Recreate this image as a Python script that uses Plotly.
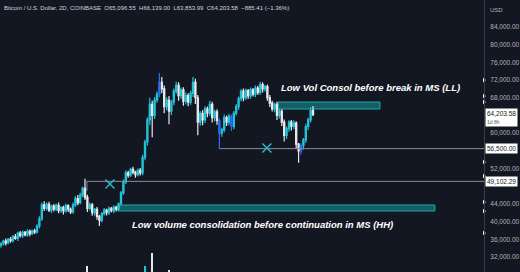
import plotly.graph_objects as go

# ---------------- data (prices in thousands USD, 2D candles) ----------------
first_open = 34.6
close = [35.0, 35.6, 35.2, 36.0, 35.7, 36.6, 36.2, 37.4, 36.8, 37.6, 37.0, 37.8, 37.3, 37.9, 37.6,
         39.0, 40.6, 43.8, 43.0, 43.9, 42.6, 43.5, 42.8, 43.7, 42.5, 43.2, 42.4, 43.6, 42.8, 42.2,
         43.8, 45.2, 44.3, 46.0, 47.5, 45.5, 43.0, 43.8, 42.0, 42.8, 41.2, 40.3, 41.8, 42.6, 42.0,
         43.0, 42.5, 43.2, 42.8, 44.0, 46.5, 49.0, 51.0, 50.5, 51.8, 51.2, 50.6, 51.6, 51.0, 54.5,
         58.0, 63.0, 66.5, 64.0, 67.5, 68.8, 71.5, 70.0, 66.0, 67.5, 65.0, 67.0, 69.5, 70.8, 68.5,
         69.8, 67.2, 68.5, 67.0, 69.0, 71.5, 68.0, 62.5, 64.5, 63.0, 65.5, 64.5, 66.5, 63.5, 64.8,
         62.8, 60.0, 60.8, 63.5, 62.5, 63.8, 61.5, 64.5, 66.0, 67.8, 69.5, 68.0, 69.6, 68.4, 69.8,
         68.8, 70.2, 69.2, 71.0, 70.0, 70.5, 68.0, 66.8, 65.5, 66.5, 64.0, 65.0, 62.5, 59.5, 61.0,
         62.5, 61.5, 62.3, 57.5, 56.0, 57.2, 58.5, 61.5, 63.0, 65.09655, 64.20358]
upper_wick = [0.4, 0.3, 0.6, 0.3, 0.5, 0.4, 0.6, 0.3, 0.5, 0.4, 0.3, 0.5, 0.4, 0.3, 0.5,
              0.4, 0.6, 0.5, 0.8, 0.4, 0.6, 0.3, 0.5, 0.4, 0.6, 0.3, 0.4, 0.5, 0.3, 0.4,
              0.5, 0.6, 0.8, 0.5, 0.4, 2.2, 0.6, 0.5, 0.4, 0.3, 0.5, 0.3, 0.4, 0.5, 0.3,
              0.4, 0.3, 0.5, 0.4, 0.3, 0.4, 0.5, 0.6, 0.5, 0.4, 0.6, 0.3, 0.4, 0.5, 0.6,
              0.5, 0.6, 1.5, 0.8, 0.7, 0.6, 2.1, 1.2, 0.8, 0.6, 0.9, 0.5, 0.6, 0.8, 0.7,
              0.5, 0.6, 0.7, 0.5, 0.6, 1.2, 0.8, 0.6, 0.5, 0.7, 0.6, 0.5, 0.8, 0.6, 0.5,
              0.6, 0.5, 0.4, 0.7, 0.5, 0.6, 0.4, 0.5, 0.6, 0.5, 0.4, 0.6, 0.5, 0.4, 0.5,
              0.4, 0.6, 0.5, 0.6, 0.5, 0.4, 0.5, 0.6, 0.5, 0.4, 0.6, 0.5, 0.4, 0.6, 0.5,
              0.4, 0.5, 0.6, 0.4, 0.3, 0.5, 0.4, 0.6, 0.5, 0.8, 1.04]
lower_wick = [0.5, 0.4, 0.6, 0.3, 0.5, 0.4, 0.3, 0.6, 0.4, 0.5, 0.3, 0.4, 0.6, 0.3, 0.4,
              0.3, 0.5, 0.4, 0.6, 0.5, 0.4, 0.7, 0.5, 0.4, 0.6, 0.5, 0.8, 0.4, 0.6, 0.5,
              0.4, 0.5, 0.6, 0.4, 0.5, 0.6, 0.8, 0.5, 0.7, 0.6, 0.8, 1.3, 0.5, 0.4, 0.6,
              0.5, 0.4, 0.6, 0.5, 0.4, 0.3, 0.4, 0.5, 0.6, 0.4, 0.5, 0.7, 0.4, 0.6, 0.5,
              0.6, 0.8, 1.2, 4.9, 0.8, 0.6, 0.7, 1.0, 1.5, 0.8, 3.0, 0.9, 0.7, 0.6, 1.2,
              0.8, 1.0, 0.7, 0.9, 0.6, 0.8, 1.4, 3.0, 0.8, 1.2, 0.7, 0.9, 0.6, 1.1, 0.8,
              0.9, 3.5, 0.8, 0.6, 0.9, 0.7, 1.0, 0.6, 0.5, 0.7, 0.6, 0.8, 0.5, 0.7, 0.6,
              0.5, 0.7, 0.6, 0.5, 0.8, 0.6, 0.7, 0.9, 0.6, 0.8, 1.0, 0.7, 0.9, 1.4, 0.8,
              0.7, 0.9, 0.6, 1.0, 2.7, 0.8, 0.9, 0.7, 0.8, 0.6, 0.35]
volume = [30, 28, 33, 25, 31, 27, 34, 29, 26, 32, 28, 30, 27, 33, 29,
          35, 38, 40, 34, 30, 28, 31, 27, 29, 33, 26, 30, 28, 32, 29,
          31, 36, 34, 38, 42, 44, 51, 36, 39, 33, 37, 41, 32, 30, 28,
          31, 29, 27, 30, 33, 37, 40, 42, 35, 33, 31, 30, 34, 32, 41,
          51, 44, 43, 64, 40, 38, 42, 39, 41, 36, 47, 35, 33, 37, 34,
          32, 35, 31, 33, 36, 38, 40, 43, 35, 33, 31, 34, 32, 36, 33,
          38, 42, 36, 34, 33, 35, 39, 33, 31, 34, 32, 30, 33, 31, 29,
          32, 30, 33, 34, 31, 30, 35, 33, 36, 32, 38, 34, 37, 41, 36,
          33, 31, 30, 40, 42, 38, 35, 33, 31, 30, 26]
blue_candles = [66, 91, 96, 125]

# annotation drawings: price levels (thousands) and candle-index spans
level_ll = 56.5
level_hh = 49.10229
box_hh = dict(i0=48.7, i1=180.8, lo=42.4, hi=43.76)
box_ll = dict(i0=115.4, i1=157.9, lo=65.46, hi=67.04)
x_marks_i = [45.4, 110.8]
x_marks_p = [48.5, 56.64]
alert_levels = [72.0, 68.4, 67.04, 53.48, 50.31, 44.44, 42.4, 37.43]
last_price = 64.20358
y_ticks = [32, 36, 40, 44, 52, 60, 68, 72, 76, 80, 84]

header = ("Bitcoin / U.S. Dollar, 2D, COINBASE  O65,096.55  H66,139.00  "
          "L63,853.99  C64,203.58  \u2212885.41 (\u22121.36%)")

# ---------------- build ----------------
K = 1000.0
n = len(close)
opens = [first_open] + close[:-1]
highs = [max(o, c) + w for o, c, w in zip(opens, close, upper_wick)]
lows = [min(o, c) - w for o, c, w in zip(opens, close, lower_wick)]

UP = "#22c3d8"
DN = "#e6e8ec"
BLUE = "#2f6bf2"
BG = "#131722"

normal = [i for i in range(n) if i not in blue_candles]

fig = go.Figure()

vol_colors = [UP if close[i] >= opens[i] else DN for i in range(n)]
fig.add_trace(go.Bar(x=list(range(n)), y=volume, marker=dict(color=vol_colors, line_width=0),
                     width=0.6, yaxis="y2", showlegend=False, hoverinfo="skip"))

def cs(idx, up, dn):
    return go.Candlestick(
        x=idx,
        open=[opens[i] * K for i in idx], high=[highs[i] * K for i in idx],
        low=[lows[i] * K for i in idx], close=[close[i] * K for i in idx],
        increasing=dict(line=dict(color=up, width=1.2), fillcolor=up),
        decreasing=dict(line=dict(color=dn, width=1.2), fillcolor=dn),
        whiskerwidth=0, showlegend=False, hoverinfo="skip")

fig.add_trace(cs(normal, UP, DN))
fig.add_trace(cs(blue_candles, BLUE, BLUE))

fig.add_trace(go.Scatter(x=x_marks_i, y=[p * K for p in x_marks_p], mode="markers",
                         marker=dict(symbol="x-thin", size=9, line=dict(color=UP, width=1.3)),
                         showlegend=False, hoverinfo="skip"))

x_right = (484 - 1) / 2.4
fig.add_trace(go.Scatter(x=[x_right] * len(alert_levels), y=[a * K for a in alert_levels],
                         mode="markers", cliponaxis=False,
                         marker=dict(symbol="triangle-right", size=4, color="#ffffff"),
                         showlegend=False, hoverinfo="skip"))

shapes = []
LC = "#8a8d96"
shapes.append(dict(type="line", x0=91, x1=x_right, y0=level_ll * K, y1=level_ll * K,
                   line=dict(color=LC, width=1)))
shapes.append(dict(type="line", x0=35.8, x1=x_right, y0=level_hh * K, y1=level_hh * K,
                   line=dict(color=LC, width=1)))
shapes.append(dict(type="line", x0=35.8, x1=35.8, y0=level_hh * K, y1=46.9 * K,
                   line=dict(color=LC, width=1)))
for b in (box_hh, box_ll):
    shapes.append(dict(type="rect", x0=b["i0"], x1=b["i1"], y0=b["lo"] * K, y1=b["hi"] * K,
                       fillcolor="rgba(22,120,125,0.75)", line=dict(color="#1fa7ad", width=1),
                       layer="below"))

ann = []
ann.append(dict(text=header, xref="paper", yref="paper", x=0, y=1, xanchor="left", yanchor="top",
                xshift=2, yshift=-3, showarrow=False,
                font=dict(size=6, color="#d1d4dc", family="Liberation Sans")))
ann.append(dict(text="<b><i>Low Vol Consol before break in MS (LL)</i></b>", xref="x", yref="y",
                x=116, y=70.3 * K, xanchor="left", yanchor="middle", showarrow=False,
                font=dict(size=9.5, color="#ffffff", family="Liberation Sans")))
ann.append(dict(text="<b><i>Low volume consolidation before continuation in MS (HH)</i></b>",
                xref="x", yref="y", x=53.7, y=39.4 * K, xanchor="left", yanchor="middle",
                showarrow=False, font=dict(size=9.5, color="#ffffff", family="Liberation Sans")))
lab_font = dict(size=6.5, color=BG, family="Liberation Sans")
for v in (level_ll, level_hh):
    ann.append(dict(text=f"{v * K:,.2f}", xref="paper", yref="y", x=1, y=v * K, xanchor="left",
                    yanchor="middle", xshift=1, showarrow=False, bgcolor="#ffffff", borderpad=1,
                    font=lab_font))
ann.append(dict(text=f"{last_price * K:,.2f}<br><span style='font-size:5px;color:#555'>1d 8h</span>",
                xref="paper", yref="y", x=1, y=last_price * K, xanchor="left", yanchor="middle",
                xshift=1, yshift=-3, showarrow=False, bgcolor="#ffffff", borderpad=1, align="left",
                font=lab_font))
ann.append(dict(text="USD", xref="paper", yref="paper", x=1, y=1, xanchor="left", yanchor="top",
                xshift=4, yshift=-5, showarrow=False,
                font=dict(size=6, color="#b2b5be", family="Liberation Sans")))

fig.update_layout(
    width=520, height=272, margin=dict(l=0, r=36, t=0, b=0),
    paper_bgcolor=BG, plot_bgcolor=BG,
    shapes=shapes, annotations=ann, showlegend=False,
    xaxis=dict(range=[-1 / 2.4, x_right], visible=False, rangeslider=dict(visible=False),
               fixedrange=True),
    yaxis=dict(range=[28.608 * K, 90.104 * K], side="right", tickvals=[t * K for t in y_ticks],
               tickformat=",.2f", showgrid=False, zeroline=False, showline=True,
               linecolor="#3a3e49", linewidth=1, ticks="", ticklabelstandoff=4,
               tickfont=dict(size=6.5, color="#b2b5be", family="Liberation Sans"),
               automargin=False, fixedrange=True),
    yaxis2=dict(range=[45, 317], overlaying="y", visible=False, fixedrange=True),
    bargap=0,
)

fig.write_html("out.html")
